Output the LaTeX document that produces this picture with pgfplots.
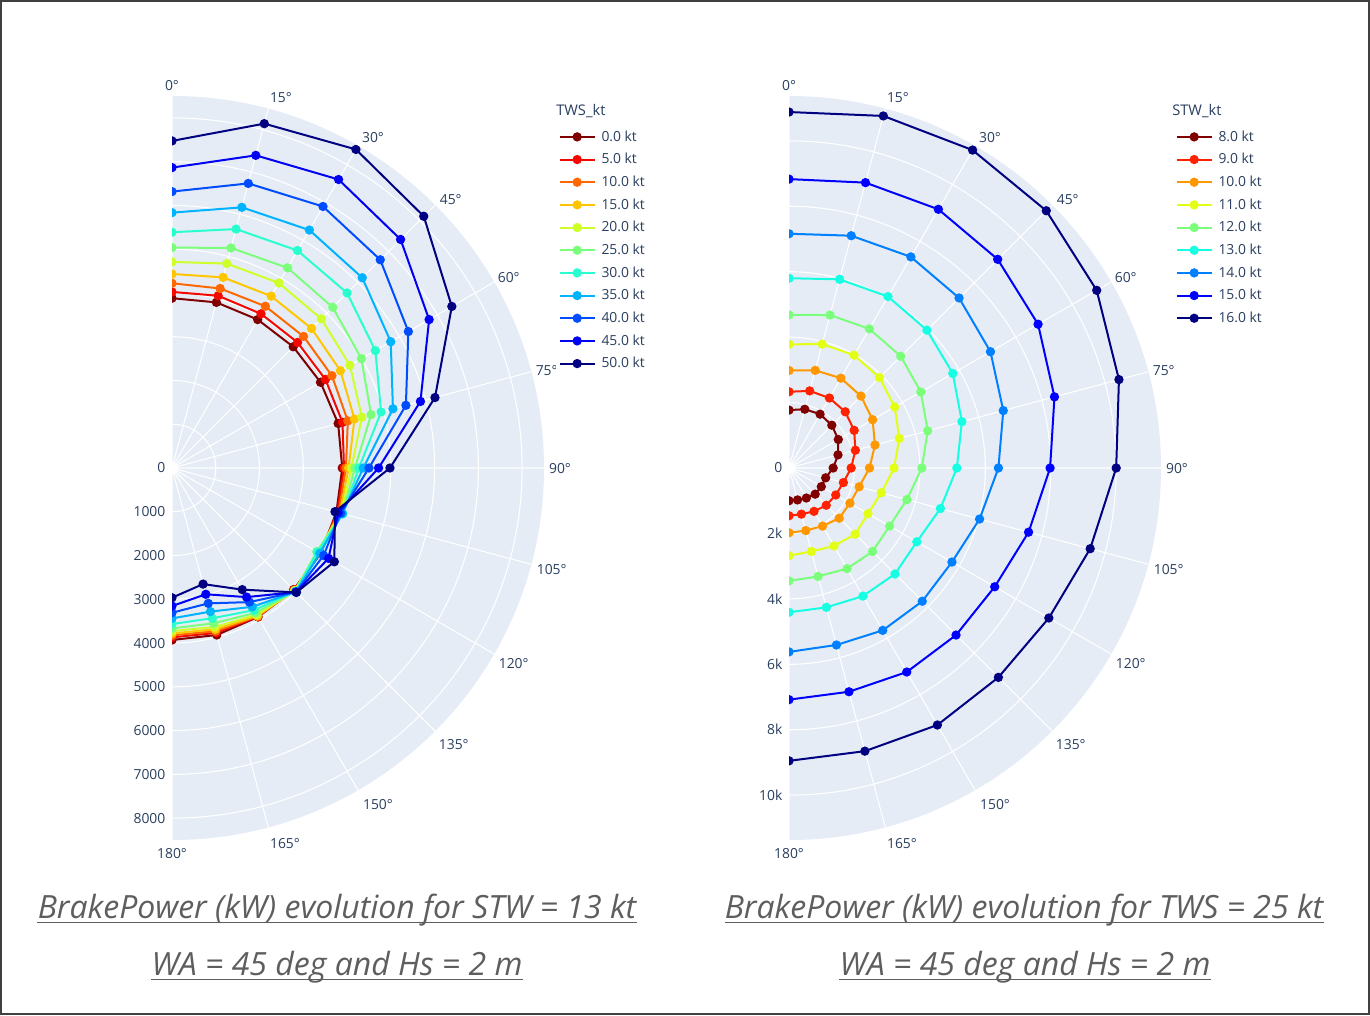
\documentclass[border=0pt]{standalone}
\usepackage{pgfplots}
\pgfplotsset{compat=1.18}
\usepgfplotslibrary{polar}
\usepackage{pgfplotstable}
\usepackage{fontspec}
\setmainfont{Open Sans}

\definecolor{fontc}{HTML}{2A3F5F}
\definecolor{polarbg}{HTML}{E5ECF6}
\definecolor{titlec}{HTML}{5E5E5E}
% jet colour map, sampled for 11 and 9 series
\definecolor{ja0}{RGB}{128,0,0}
\definecolor{ja1}{RGB}{244,9,0}
\definecolor{ja2}{RGB}{255,104,0}
\definecolor{ja3}{RGB}{255,198,0}
\definecolor{ja4}{RGB}{206,255,41}
\definecolor{ja5}{RGB}{123,255,123}
\definecolor{ja6}{RGB}{41,255,206}
\definecolor{ja7}{RGB}{0,179,255}
\definecolor{ja8}{RGB}{0,77,255}
\definecolor{ja9}{RGB}{0,0,244}
\definecolor{ja10}{RGB}{0,0,128}
\definecolor{jb0}{RGB}{128,0,0}
\definecolor{jb1}{RGB}{255,33,0}
\definecolor{jb2}{RGB}{255,151,0}
\definecolor{jb3}{RGB}{226,255,21}
\definecolor{jb4}{RGB}{123,255,123}
\definecolor{jb5}{RGB}{21,255,226}
\definecolor{jb6}{RGB}{0,128,255}
\definecolor{jb7}{RGB}{0,0,255}
\definecolor{jb8}{RGB}{0,0,128}

\newcommand\tlab{\fontsize{10.4}{11.5}\selectfont}
\newcommand\ltit{\fontsize{11}{12}\selectfont}
\newcommand\ttl{\fontsize{24}{28}\itshape}

% Brake power (kW) vs true wind angle, STW = 13 kt, one column per TWS
\pgfplotstableread{
a   t0   t5   t10  t15  t20  t25  t30  t35  t40  t45  t50
0   3880 4023 4221 4434 4709 5036 5387 5835 6316 6864 7474
15  3918 4075 4247 4509 4836 5206 5652 6166 6732 7396 8146
30  3916 4068 4267 4534 4882 5282 5737 6278 6900 7612 8405
45  3917 4057 4251 4509 4822 5193 5657 6148 6729 7386 8135
60  3918 4048 4219 4444 4695 4997 5365 5771 6236 6784 7383
75  3930 4033 4159 4316 4491 4709 4946 5226 5533 5877 6221
90  3890 3930 3975 4035 4100 4180 4270 4370 4500 4720 4980
105 3890 3910 3940 3970 4000 4030 4040 4030 3990 3930 3855
120 3920 3900 3880 3850 3830 3820 3840 3900 4000 4130 4283
135 3930 3940 3950 3960 3970 3980 3990 4000 4005 4010 4020
150 3930 3925 3915 3900 3870 3820 3750 3663 3538 3406 3209
165 3950 3900 3860 3816 3760 3673 3554 3397 3202 2987 2746
180 3930 3870 3825 3779 3726 3665 3566 3436 3307 3154 2964
}\twstab

% Brake power (kW) vs true wind angle, TWS = 25 kt, one column per STW
\pgfplotstableread{
a   s8   s9   s10  s11  s12  s13  s14  s15  s16
0   1770 2330 2980 3780 4680 5800 7160 8830 10880
15  1860 2440 3090 3920 4840 5970 7350 9030 11140
30  1900 2470 3170 3980 4910 6050 7450 9130 11220
45  1850 2430 3110 3910 4830 5960 7350 9020 11120
60  1740 2300 2950 3730 4650 5780 7110 8790 10860
75  1550 2100 2720 3490 4390 5470 6780 8400 10440
90  1350 1900 2460 3210 4060 5130 6400 7980 10000
105 1160 1720 2220 2920 3730 4790 6030 7580 9530
120 1140 1650 2150 2790 3550 4510 5750 7260 9170
135 1130 1610 2170 2860 3610 4580 5760 7220 9050
150 1060 1530 2050 2750 3550 4520 5730 7200 9070
165 1010 1460 1980 2640 3430 4410 5600 7080 8960
180 1000 1460 1980 2680 3450 4410 5620 7080 8950
}\stwtab

\tikzset{
  rlab/.style={anchor=east, inner sep=0pt, xshift=-4.8pt, font=\tlab, text=fontc},
  alab/.style={anchor=center, inner sep=0pt, font=\tlab, text=fontc},
}

% angular labels in compass degrees (0 at top, clockwise);
% #1 = label radius, #2 = label radius on the vertical edges
\newcommand\anglabels[2]{%
  \node[alab, yshift=-2.25pt] at (axis cs:90,#2) {0°};
  \node[alab, xshift=6pt, yshift=-4.5pt] at (axis cs:75,#1) {15°};
  \node[alab, xshift=4.5pt, yshift=-5.25pt] at (axis cs:60,#1) {30°};
  \node[alab, xshift=2.25pt, yshift=-5.25pt] at (axis cs:45,#1) {45°};
  \node[alab, xshift=-0.75pt, yshift=-3.75pt] at (axis cs:30,#1) {60°};
  \node[alab, xshift=-1.5pt, yshift=-2.25pt] at (axis cs:15,#1) {75°};
  \node[alab, xshift=-1.5pt, yshift=-0.75pt] at (axis cs:0,#1) {90°};
  \node[alab, xshift=2.25pt, yshift=-0.75pt] at (axis cs:-15,#1) {105°};
  \node[alab, xshift=3pt, yshift=-0.75pt] at (axis cs:-30,#1) {120°};
  \node[alab, xshift=4.5pt, yshift=-0.75pt] at (axis cs:-45,#1) {135°};
  \node[alab, xshift=8.25pt, yshift=0.75pt] at (axis cs:-60,#1) {150°};
  \node[alab, xshift=9pt, yshift=0.75pt] at (axis cs:-75,#1) {165°};
  \node[alab, yshift=-0.75pt] at (axis cs:-90,#2) {180°};
}

\pgfplotsset{
  halfpolar/.style={
    scale only axis, width=558pt, height=558pt,
    anchor=west,
    xmin=-90, xmax=90, ymin=0,
    xtick={-90,-75,...,90},
    xticklabels={},
    scaled y ticks=false,
    yticklabel style={opacity=0},
    grid=major,
    major grid style={white, line width=0.8pt},
    axis line style={draw=none},
    tick style={draw=none},
    major tick length=0pt,
    axis background/.style={fill=polarbg},
    clip mode=individual,
    clip marker paths=true,
    legend cell align=left,
    legend style={at={(1.032,0.961)}, anchor=north west, draw=none,
      fill=white, font=\tlab, text=fontc, row sep=3.6pt,
      inner xsep=2pt, inner ysep=2pt},
    legend image code/.code={
      \draw[##1, mark repeat=2, mark phase=2]
        plot coordinates {(0pt,0pt) (13pt,0pt) (26pt,0pt)};
      \path (28.5pt,0pt);},
  },
  ser/.style={color=#1, mark=*, mark size=2.7pt, line width=1.5pt,
    mark options={solid}},
}

\begin{document}
\begin{tikzpicture}
\begin{scope}[x=0.75pt, y=0.75pt]
  \useasboundingbox (0,0) rectangle (1370,1015);
  \fill[white] (0,0) rectangle (1370,1015);
\end{scope}

% ---- TWS sweep ----
\begin{polaraxis}[halfpolar, at={(129pt,410.25pt)}, ymax=8500,
  ytick={1000,2000,...,8000}]
  \addplot[ser=ja0]  table[x expr={90-\thisrow{a}}, y=t0]  {\twstab};
  \addlegendentry{0.0 kt}
  \addplot[ser=ja1]  table[x expr={90-\thisrow{a}}, y=t5]  {\twstab};
  \addlegendentry{5.0 kt}
  \addplot[ser=ja2]  table[x expr={90-\thisrow{a}}, y=t10] {\twstab};
  \addlegendentry{10.0 kt}
  \addplot[ser=ja3]  table[x expr={90-\thisrow{a}}, y=t15] {\twstab};
  \addlegendentry{15.0 kt}
  \addplot[ser=ja4]  table[x expr={90-\thisrow{a}}, y=t20] {\twstab};
  \addlegendentry{20.0 kt}
  \addplot[ser=ja5]  table[x expr={90-\thisrow{a}}, y=t25] {\twstab};
  \addlegendentry{25.0 kt}
  \addplot[ser=ja6]  table[x expr={90-\thisrow{a}}, y=t30] {\twstab};
  \addlegendentry{30.0 kt}
  \addplot[ser=ja7]  table[x expr={90-\thisrow{a}}, y=t35] {\twstab};
  \addlegendentry{35.0 kt}
  \addplot[ser=ja8]  table[x expr={90-\thisrow{a}}, y=t40] {\twstab};
  \addlegendentry{40.0 kt}
  \addplot[ser=ja9]  table[x expr={90-\thisrow{a}}, y=t45] {\twstab};
  \addlegendentry{45.0 kt}
  \addplot[ser=ja10] table[x expr={90-\thisrow{a}}, y=t50] {\twstab};
  \addlegendentry{50.0 kt}
  \anglabels{8911}{8797}
  % radial labels
  \node[rlab] at (axis cs:-90,0) {0};
  \node[rlab] at (axis cs:-90,1000) {1000};
  \node[rlab] at (axis cs:-90,2000) {2000};
  \node[rlab] at (axis cs:-90,3000) {3000};
  \node[rlab] at (axis cs:-90,4000) {4000};
  \node[rlab] at (axis cs:-90,5000) {5000};
  \node[rlab] at (axis cs:-90,6000) {6000};
  \node[rlab] at (axis cs:-90,7000) {7000};
  \node[rlab] at (axis cs:-90,8000) {8000};
\end{polaraxis}

% ---- STW sweep ----
\begin{polaraxis}[halfpolar, at={(591.75pt,410.25pt)}, ymax=11370,
  ytick={2000,4000,...,10000}]
  \addplot[ser=jb0] table[x expr={90-\thisrow{a}}, y=s8]  {\stwtab};
  \addlegendentry{8.0 kt}
  \addplot[ser=jb1] table[x expr={90-\thisrow{a}}, y=s9]  {\stwtab};
  \addlegendentry{9.0 kt}
  \addplot[ser=jb2] table[x expr={90-\thisrow{a}}, y=s10] {\stwtab};
  \addlegendentry{10.0 kt}
  \addplot[ser=jb3] table[x expr={90-\thisrow{a}}, y=s11] {\stwtab};
  \addlegendentry{11.0 kt}
  \addplot[ser=jb4] table[x expr={90-\thisrow{a}}, y=s12] {\stwtab};
  \addlegendentry{12.0 kt}
  \addplot[ser=jb5] table[x expr={90-\thisrow{a}}, y=s13] {\stwtab};
  \addlegendentry{13.0 kt}
  \addplot[ser=jb6] table[x expr={90-\thisrow{a}}, y=s14] {\stwtab};
  \addlegendentry{14.0 kt}
  \addplot[ser=jb7] table[x expr={90-\thisrow{a}}, y=s15] {\stwtab};
  \addlegendentry{15.0 kt}
  \addplot[ser=jb8] table[x expr={90-\thisrow{a}}, y=s16] {\stwtab};
  \addlegendentry{16.0 kt}
  \anglabels{11920}{11767}
  % radial labels
  \node[rlab] at (axis cs:-90,0) {0};
  \node[rlab] at (axis cs:-90,2000) {2k};
  \node[rlab] at (axis cs:-90,4000) {4k};
  \node[rlab] at (axis cs:-90,6000) {6k};
  \node[rlab] at (axis cs:-90,8000) {8k};
  \node[rlab] at (axis cs:-90,10000) {10k};
\end{polaraxis}

\begin{scope}[x=0.75pt, y=0.75pt]
  % legend titles
  \node[anchor=base west, inner sep=0, font=\ltit, text=fontc] at (556,899) {TWS\_kt};
  \node[anchor=base west, inner sep=0, font=\ltit, text=fontc] at (1172,899) {STW\_kt};
  % captions
  \node[anchor=base, inner sep=0, font=\ttl, text=titlec] (l1) at (337,97)
    {BrakePower (kW) evolution for STW = 13 kt};
  \node[anchor=base, inner sep=0, font=\ttl, text=titlec] (l2) at (337,40)
    {WA = 45 deg and Hs = 2 m};
  \node[anchor=base, inner sep=0, font=\ttl, text=titlec] (r1) at (1024,97)
    {BrakePower (kW) evolution for TWS = 25 kt};
  \node[anchor=base, inner sep=0, font=\ttl, text=titlec] (r2) at (1025,40)
    {WA = 45 deg and Hs = 2 m};
  \foreach \n in {l1,l2,r1,r2}
    \draw[titlec, line width=1.1pt]
      ([yshift=-3.4pt]\n.base west) -- ([yshift=-3.4pt]\n.base east);
  % frame
  \draw[black!75, line width=1.3pt] (1,1) rectangle (1369,1014);
\end{scope}
\end{tikzpicture}
\end{document}
